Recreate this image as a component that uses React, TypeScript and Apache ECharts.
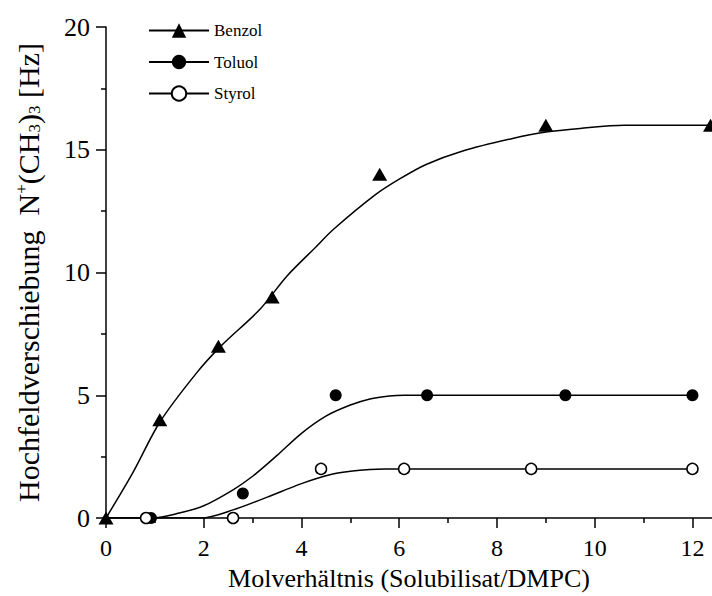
import React, { useEffect, useRef } from "react";
import * as echarts from "echarts";

const FONT = '"Liberation Serif", "Times New Roman", serif';

const seriesNames = ["Benzol", "Toluol", "Styrol"];

// measured points
const benzolPoints = [[0, 0], [1.1, 4], [2.3, 7], [3.4, 9], [5.6, 14], [9.0, 16], [12.37, 16]];
const toluolPoints = [[0.92, 0], [2.8, 1], [4.7, 5], [6.57, 5], [9.4, 5], [12, 5]];
const styrolPoints = [[0.82, 0], [2.6, 0], [4.4, 2], [6.1, 2], [8.7, 2], [12, 2]];

// fitted curves
const benzolCurve = [[0, 0], [0.55, 1.85], [1.1, 3.9], [1.85, 5.9], [2.35, 7.0], [3.15, 8.5], [3.7, 9.85], [4.3, 11.05], [4.65, 11.75], [5.5, 13.15], [6.0, 13.8], [6.55, 14.4], [7.3, 14.95], [8.3, 15.45], [9.0, 15.72], [9.7, 15.87], [10.6, 16.0], [12.4, 16]];
const toluolCurve = [[0, 0], [0.95, 0], [1.5, 0.2], [2.0, 0.5], [2.6, 1.15], [3.0, 1.7], [3.5, 2.55], [4.0, 3.45], [4.5, 4.15], [5.0, 4.6], [5.4, 4.85], [5.8, 4.97], [6.1, 5], [12, 5]];
const styrolCurve = [[0, 0], [1.95, 0], [2.6, 0.33], [3.3, 0.85], [4.0, 1.4], [4.6, 1.77], [5.0, 1.9], [5.4, 1.98], [5.7, 2], [12, 2]];

const xMajorTicks = [0, 2, 4, 6, 8, 10, 12];
const xMinorTicks = [1, 3, 5, 7, 9, 11];

export default function App() {
  const ref = useRef<HTMLDivElement>(null);
  useEffect(() => {
    if (!ref.current) return;
    const chart = echarts.init(ref.current, null, { renderer: "svg" });
    const black = "#000";
    const lineBase = (name: string, data: number[][], symbol: string, itemStyle: any) => ({
      type: "line",
      name,
      data,
      symbol,
      symbolSize: 12,
      showSymbol: false,
      smooth: 0.3,
      itemStyle,
      lineStyle: { color: black, width: 1.5 },
      z: 2,
      silent: true,
    });
    const scatterBase = (name: string, data: number[][], symbol: string, size: any, itemStyle: any) => ({
      type: "scatter",
      name,
      data,
      symbol,
      symbolSize: size,
      itemStyle,
      z: 3,
      clip: false,
    });
    const filled = { color: black, opacity: 1 };
    const open = { color: "#fff", borderColor: black, borderWidth: 1.5, opacity: 1 };
    chart.setOption({
      animation: false,
      backgroundColor: "#fff",
      grid: { left: 106, right: 0, top: 27, bottom: 77 },
      legend: {
        data: seriesNames,
        orient: "vertical",
        left: 148,
        top: 22,
        padding: 0,
        itemWidth: 60,
        itemHeight: 18,
        itemGap: 14.5,
        textStyle: { fontFamily: FONT, fontSize: 17, color: black },
        selectedMode: false,
      },
      xAxis: [
        {
          type: "value",
          min: 0,
          max: 12.4,
          interval: 2,
          name: "Molverhältnis (Solubilisat/DMPC)",
          nameLocation: "middle",
          nameGap: 47,
          nameTextStyle: { fontFamily: FONT, fontSize: 26, color: black },
          axisLine: { show: true, onZero: false, lineStyle: { color: black, width: 1.5 } },
          axisTick: { show: true, length: 10, customValues: xMajorTicks, lineStyle: { color: black, width: 1.5 } },
          axisLabel: { customValues: xMajorTicks, margin: 18, fontFamily: FONT, fontSize: 24, color: black },
          splitLine: { show: false },
        },
        {
          type: "value",
          min: 0,
          max: 12.4,
          position: "bottom",
          axisLine: { show: false },
          axisTick: { show: true, length: 5, customValues: xMinorTicks, lineStyle: { color: black, width: 1.5 } },
          axisLabel: { show: false },
          splitLine: { show: false },
        },
      ],
      yAxis: {
        type: "value",
        min: 0,
        max: 20,
        interval: 5,
        name: "Hochfeldverschiebung  N{sup|+}(CH{sub|3}){sub|3} [Hz]",
        nameLocation: "middle",
        nameGap: 63,
        nameTextStyle: {
          fontFamily: FONT,
          fontSize: 30,
          color: black,
          rich: {
            sup: { fontFamily: FONT, fontSize: 17, color: black, verticalAlign: "top", lineHeight: 17 },
            sub: { fontFamily: FONT, fontSize: 17, color: black, verticalAlign: "bottom", lineHeight: 17 },
          },
        },
        axisLine: { show: true, onZero: false, lineStyle: { color: black, width: 1.5 } },
        axisTick: { show: true, length: 10, lineStyle: { color: black, width: 1.5 } },
        minorTick: { show: true, splitNumber: 2, length: 5, lineStyle: { color: black, width: 1.5 } },
        axisLabel: { margin: 16, fontFamily: FONT, fontSize: 26, color: black },
        splitLine: { show: false },
      },
      series: [
        lineBase("Benzol", benzolCurve, "triangle", filled),
        lineBase("Toluol", toluolCurve, "circle", filled),
        lineBase("Styrol", styrolCurve, "circle", open),
        scatterBase("Benzol", benzolPoints, "triangle", [15, 13], filled),
        scatterBase("Toluol", toluolPoints, "circle", 12, filled),
        scatterBase("Styrol", styrolPoints, "circle", 11, open),
      ],
    });
    return () => chart.dispose();
  }, []);
  return (
    <div
      ref={ref}
      style={{ position: "fixed", left: 0, top: 0, width: 712, height: 596, background: "#fff" }}
    />
  );
}
